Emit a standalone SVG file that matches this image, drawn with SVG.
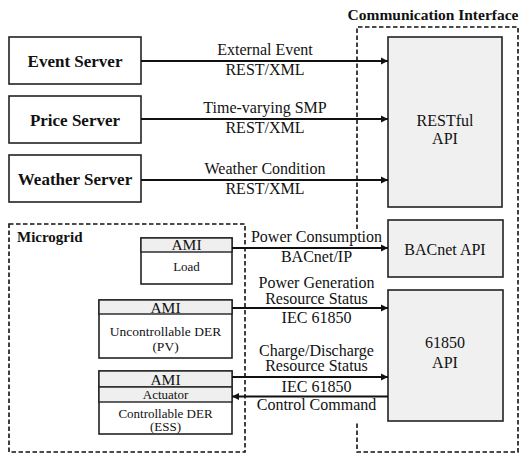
<svg xmlns="http://www.w3.org/2000/svg" width="522" height="454" viewBox="0 0 522 454">
<style>
text{font-family:"Liberation Serif","Times New Roman",serif;fill:#111;text-anchor:middle}
.b{font-weight:bold}
.box{fill:#fff;stroke:#222;stroke-width:1.6}
.api{fill:#f0f0f0;stroke:#222;stroke-width:1.6}
.hdr{fill:#efefef;stroke:#222;stroke-width:1.4}
.dash{fill:none;stroke:#111;stroke-width:1.6;stroke-dasharray:4.5 2.5}
.ln{stroke:#111;stroke-width:1.8;fill:none}
.lbl{font-size:16px}
</style>
<defs>
<marker id="ah" viewBox="0 0 8 8" refX="8" refY="4" markerWidth="4" markerHeight="4" orient="auto" markerUnits="strokeWidth">
<path d="M0,0 L8,4 L0,8 z" fill="#111"/>
</marker>
</defs>
<g id="comm-interface">
<text class="b" x="433" y="20" font-size="15.5">Communication Interface</text>
<path class="dash" d="M357,229 L357,27 L518,27 L518,452 L357,452 L357,421"/>
</g>
<g id="microgrid">
<rect class="dash" x="9" y="224" width="236" height="228"/>
<text class="b" x="17" y="242" font-size="15" style="text-anchor:start">Microgrid</text>
</g>
<g id="event-server">
<rect class="box" x="9" y="37" width="132" height="47"/>
<text class="b" x="75" y="67" font-size="17">Event Server</text>
</g>
<g id="price-server">
<rect class="box" x="9" y="96" width="132" height="47"/>
<text class="b" x="75" y="126" font-size="17">Price Server</text>
</g>
<g id="weather-server">
<rect class="box" x="9" y="155" width="132" height="47"/>
<text class="b" x="75" y="185" font-size="17">Weather Server</text>
</g>
<g id="restful-api">
<rect class="api" x="388" y="37" width="114" height="170"/>
<text x="445" y="126" font-size="16">RESTful</text>
<text x="445" y="144" font-size="16">API</text>
</g>
<g id="bacnet-api">
<rect class="api" x="388" y="220" width="115" height="57"/>
<text x="445" y="255" font-size="16">BACnet API</text>
</g>
<g id="api-61850">
<rect class="api" x="388" y="290" width="115" height="131"/>
<text x="445" y="348" font-size="16">61850</text>
<text x="445" y="368" font-size="16">API</text>
</g>
<g id="load">
<rect class="box" x="141" y="238" width="91" height="46"/>
<rect class="hdr" x="141" y="238" width="91" height="14"/>
<text x="186.5" y="250" font-size="15.5">AMI</text>
<text x="186.5" y="271" font-size="13">Load</text>
</g>
<g id="uncontrollable-der">
<rect class="box" x="99" y="300" width="133" height="58"/>
<rect class="hdr" x="99" y="300" width="133" height="14"/>
<text x="165.5" y="312.5" font-size="15.5">AMI</text>
<text x="165.5" y="336" font-size="13.5">Uncontrollable DER</text>
<text x="165.5" y="350.5" font-size="13.5">(PV)</text>
</g>
<g id="controllable-der">
<rect class="box" x="99" y="371" width="133" height="63"/>
<rect class="hdr" x="99" y="371" width="133" height="16"/>
<rect class="hdr" x="99" y="387" width="133" height="15"/>
<text x="165.5" y="385" font-size="15.5">AMI</text>
<text x="165.5" y="399" font-size="13">Actuator</text>
<text x="165.5" y="418" font-size="13">Controllable DER</text>
<text x="165.5" y="430.5" font-size="13">(ESS)</text>
</g>
<g id="connectors">
<line class="ln" x1="141" y1="61" x2="388" y2="61" marker-end="url(#ah)"/>
<line class="ln" x1="141" y1="119" x2="388" y2="119" marker-end="url(#ah)"/>
<line class="ln" x1="141" y1="180" x2="388" y2="180" marker-end="url(#ah)"/>
<line class="ln" x1="232" y1="248" x2="388" y2="248" marker-end="url(#ah)"/>
<line class="ln" x1="232" y1="308" x2="388" y2="308" marker-end="url(#ah)"/>
<line class="ln" x1="232" y1="377" x2="388" y2="377" marker-end="url(#ah)"/>
<line class="ln" x1="388" y1="396.5" x2="232" y2="396.5" marker-end="url(#ah)"/>
<text class="lbl" x="265" y="55">External Event</text>
<text class="lbl" x="265" y="75">REST/XML</text>
<text class="lbl" x="265" y="113">Time-varying SMP</text>
<text class="lbl" x="265" y="133">REST/XML</text>
<text class="lbl" x="265" y="174">Weather Condition</text>
<text class="lbl" x="265" y="194">REST/XML</text>
<text class="lbl" x="316.5" y="242">Power Consumption</text>
<text class="lbl" x="316.5" y="261.5">BACnet/IP</text>
<text class="lbl" x="316.5" y="288">Power Generation</text>
<text class="lbl" x="316.5" y="304">Resource Status</text>
<text class="lbl" x="316.5" y="323">IEC 61850</text>
<text class="lbl" x="316.5" y="356">Charge/Discharge</text>
<text class="lbl" x="316.5" y="371" font-size="15.5">Resource Status</text>
<text class="lbl" x="316.5" y="392">IEC 61850</text>
<text class="lbl" x="316.5" y="410">Control Command</text>
</g>
</svg>
